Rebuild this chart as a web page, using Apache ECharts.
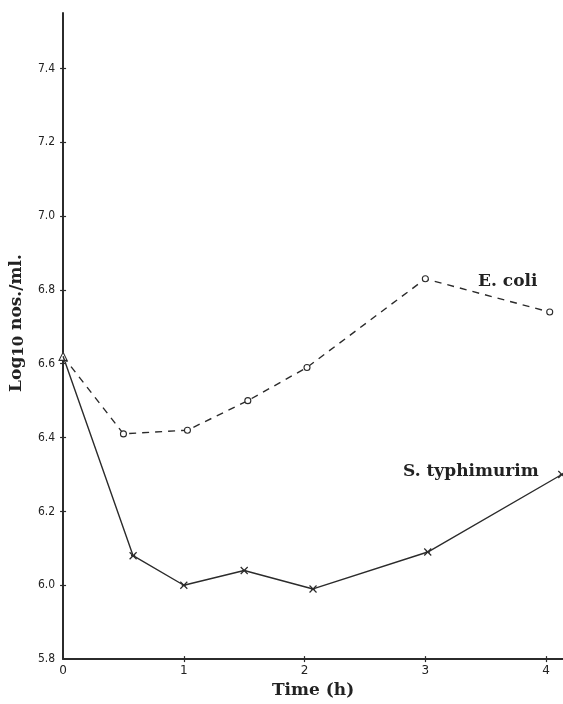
<!DOCTYPE html>
<html>
<head>
<meta charset="utf-8">
<script src="https://cdn.jsdelivr.net/npm/echarts@6/dist/echarts.min.js"></script>
<style>
    html, body { margin: 0; padding: 0; background: #fff; }
    #chart { width: 563px; height: 704px; }
</style>
</head>
<body>
<div id="chart"></div>
<script>
    // 数据
    const ecoliTime = [0, 0.5, 1.03, 1.53, 2.02, 3.0, 4.03]
    const ecoliLog = [6.62, 6.41, 6.42, 6.50, 6.59, 6.83, 6.74]
    const typhiTime = [0, 0.58, 1.0, 1.5, 2.07, 3.02, 4.13]
    const typhiLog = [6.62, 6.08, 6.0, 6.04, 5.99, 6.09, 6.30]
    const yTickLabels = [5.8, 6.0, 6.2, 6.4, 6.6, 6.8, 7.0, 7.2, 7.4]
    const xTickLabels = [0, 1, 2, 3, 4]

    const ink = '#2b2b2b'
    const serif = '"DejaVu Serif", "Liberation Serif", serif'

    const toPairs = (xs, ys) => xs.map((x, i) => [x, ys[i]])

    const chart = echarts.init(document.getElementById('chart'))
    const option = {
        backgroundColor: '#fff',
        animation: false,
        grid: {
            left: 63,
            right: 0,
            top: 13,
            bottom: 40
        },
        xAxis: [
            {
                type: 'value',
                min: 0,
                max: 4.14,
                splitLine: { show: false },
                axisLine: { show: true, lineStyle: { color: ink, width: 2 } },
                axisTick: {
                    show: true,
                    length: 3,
                    customValues: xTickLabels.slice(1),
                    lineStyle: { color: ink, width: 1.2 }
                },
                axisLabel: {
                    customValues: xTickLabels,
                    color: '#222',
                    fontSize: 12,
                    fontFamily: '"DejaVu Sans", sans-serif',
                    margin: 6
                },
                name: 'Time (h)',
                nameLocation: 'middle',
                nameGap: 21,
                nameTextStyle: { color: '#222', fontSize: 17, fontFamily: serif, fontWeight: 'bold' }
            },
            {
                // 刻度线向内的一半
                type: 'value',
                position: 'bottom',
                min: 0,
                max: 4.14,
                splitLine: { show: false },
                axisLine: { show: false },
                axisLabel: { show: false },
                axisTick: {
                    show: true,
                    inside: true,
                    length: 3,
                    customValues: xTickLabels.slice(1),
                    lineStyle: { color: ink, width: 1.2 }
                }
            }
        ],
        yAxis: [
            {
                type: 'value',
                min: 5.8,
                max: 7.55,
                splitLine: { show: false },
                axisLine: { show: true, lineStyle: { color: ink, width: 2 } },
                axisTick: {
                    show: true,
                    length: 3,
                    customValues: yTickLabels.slice(1),
                    lineStyle: { color: ink, width: 1.2 }
                },
                axisLabel: {
                    customValues: yTickLabels,
                    formatter: (v) => v.toFixed(1),
                    color: '#222',
                    fontSize: 12,
                    fontFamily: '"DejaVu Sans Condensed", "DejaVu Sans", sans-serif',
                    margin: 8
                },
                name: 'Log{sub|10} nos./ml.',
                nameLocation: 'middle',
                nameRotate: 90,
                nameGap: 36,
                nameTextStyle: {
                    color: '#222',
                    fontSize: 17,
                    fontFamily: serif,
                    fontWeight: 'bold',
                    padding: [0, 0, 0, 26],
                    rich: {
                        sub: { fontSize: 15, fontFamily: serif, fontWeight: 'bold', color: '#222', padding: [6, 0, 0, 0] }
                    }
                }
            },
            {
                type: 'value',
                position: 'left',
                min: 5.8,
                max: 7.55,
                splitLine: { show: false },
                axisLine: { show: false },
                axisLabel: { show: false },
                axisTick: {
                    show: true,
                    inside: true,
                    length: 3,
                    customValues: yTickLabels.slice(1),
                    lineStyle: { color: ink, width: 1.2 }
                }
            }
        ],
        series: [
            {
                name: 'E. coli',
                type: 'line',
                data: toPairs(ecoliTime, ecoliLog).map((p, i) => i === 0
                    ? { value: p, symbol: 'triangle', symbolSize: 8 }
                    : { value: p }),
                symbol: 'circle',
                symbolSize: 6,
                showAllSymbol: true,
                lineStyle: { color: ink, width: 1.4, type: [7, 6] },
                itemStyle: { color: '#fff', borderColor: ink, borderWidth: 1.1 },
                z: 3
            },
            {
                name: 'S. typhimurim',
                type: 'line',
                data: toPairs(typhiTime, typhiLog).map((p, i) => i === 0
                    ? { value: p, symbol: 'none' }
                    : { value: p }),
                symbol: 'path://M0,0L10,10M10,0L0,10M2,5L8,5',
                symbolSize: 7,
                showAllSymbol: true,
                lineStyle: { color: ink, width: 1.4 },
                itemStyle: { color: ink, borderColor: ink, borderWidth: 1.2 },
                z: 4
            }
        ],
        graphic: [
            {
                type: 'text',
                left: 478,
                top: 273,
                style: { text: 'E. coli', fill: '#222', font: 'bold 17px ' + serif }
            },
            {
                type: 'text',
                left: 403,
                top: 463,
                style: { text: 'S. typhimurim', fill: '#222', font: 'bold 17px ' + serif }
            }
        ]
    }
    option && chart.setOption(option)
</script>
</body>
</html>
